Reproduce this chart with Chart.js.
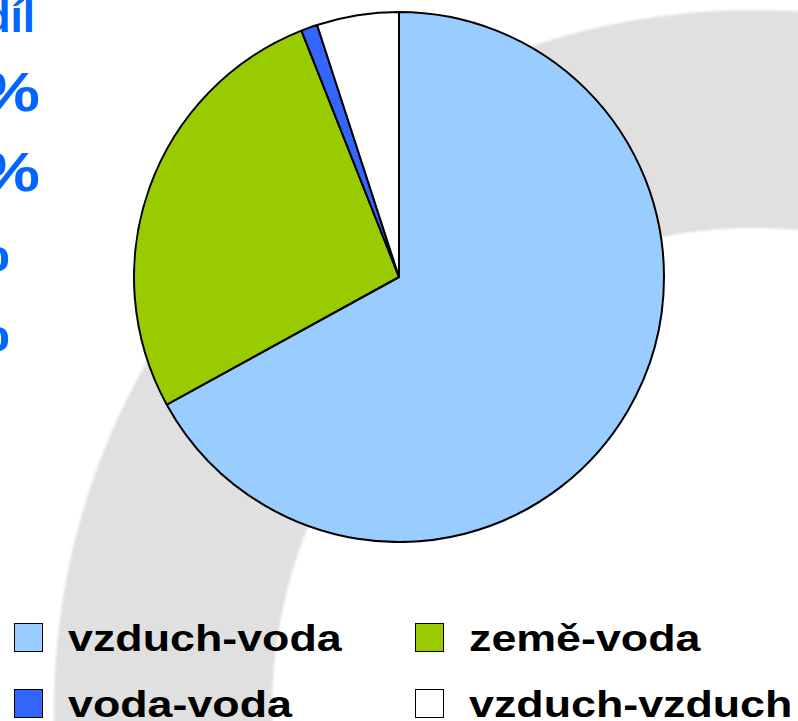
<!DOCTYPE html>
<html lang="cs">
<head>
<meta charset="utf-8">
<script src="https://cdn.jsdelivr.net/npm/chart.js@4/dist/chart.umd.min.js"></script>
<style>
  html, body { margin: 0; padding: 0; }
  body {
    width: 798px; height: 721px; overflow: hidden; position: relative;
    font-family: 'Liberation Sans', Arial, sans-serif;
    background: radial-gradient(circle at 754px 710px,
      #fff 0, #fff 480px, #e0e0e0 484px, #e0e0e0 698px, #fff 702px);
  }
  #pie-wrap { position: absolute; left: 133px; top: 11px; width: 532px; height: 532px; }
  .side {
    position: absolute; left: -400px; width: 440px; text-align: right;
    font-weight: bold; color: #0066ff;
    transform-origin: right center; white-space: nowrap;
  }
  .leg-item { position: absolute; height: 37px; }
  .leg-box {
    position: absolute; left: 0; top: 3px; width: 27px; height: 27px;
    border: 1.5px solid #000; box-sizing: content-box;
  }
  .leg-text {
    position: absolute; left: 54px; top: 0;
    font-size: 37px; line-height: 37px; font-weight: bold; color: #000;
    transform: scaleX(1.21); transform-origin: left center; white-space: nowrap;
  }
</style>
</head>
<body>
<div id="side-text"></div>
<div id="pie-wrap"><canvas id="pie"></canvas></div>
<div id="legend"></div>

<script>
// ─── DATA ─────────────────────────────────────────────────────────
const labels  = ['vzduch-voda', 'země-voda', 'voda-voda', 'vzduch-vzduch'];
const shares  = [67, 27, 1, 5];
const colours = ['#99ccff', '#99cc00', '#3366ff', '#ffffff'];

// clipped table on the left edge: header + the same shares
const sideHeader = 'podíl';

// ─── SIDE TEXT (cut off by the left edge) ─────────────────────────
const sideRows = [
  { text: sideHeader,      right: 35, base: 32,  size: 44, sx: 1 },
  { text: shares[0] + '%', right: 40, base: 112, size: 55, sx: 1.21 },
  { text: shares[1] + '%', right: 40, base: 192, size: 55, sx: 1.21 },
  { text: shares[2] + '%', right: 10, base: 272, size: 55, sx: 1.21 },
  { text: shares[3] + '%', right: 10, base: 352, size: 55, sx: 1.21 }
];
const sideEl = document.getElementById('side-text');
sideRows.forEach(r => {
  const d = document.createElement('div');
  d.className = 'side';
  d.textContent = r.text;
  d.style.fontSize   = r.size + 'px';
  d.style.lineHeight = r.size + 'px';
  d.style.transform  = 'scaleX(' + r.sx + ')';
  d.style.left = (r.right - 440) + 'px';
  // baseline offset inside a line box for Liberation Sans
  const baseOff = (r.size - 1.117 * r.size) / 2 + 0.905 * r.size;
  d.style.top  = (r.base - baseOff) + 'px';
  sideEl.appendChild(d);
});

// ─── PIE ─────────────────────────────────────────────────────────
new Chart(document.getElementById('pie'), {
  type: 'pie',
  data: {
    labels,
    datasets: [{
      data: shares,
      backgroundColor: colours,
      borderColor: '#000',
      borderWidth: 2
    }]
  },
  options: {
    responsive: true, maintainAspectRatio: false, animation: false,
    layout: { padding: 0 },
    plugins: { legend: { display: false }, tooltip: { enabled: false } }
  }
});

// ─── LEGEND (2 x 2) ───────────────────────────────────────────────
const legPos = [[14, 620], [415, 620], [14, 686], [415, 686]];
const legEl = document.getElementById('legend');
labels.forEach((lab, i) => {
  const item = document.createElement('div');
  item.className = 'leg-item';
  item.style.left = legPos[i][0] + 'px';
  item.style.top  = legPos[i][1] + 'px';
  item.innerHTML = '<div class="leg-box"></div><div class="leg-text"></div>';
  item.querySelector('.leg-box').style.background = colours[i];
  item.querySelector('.leg-text').textContent = lab;
  legEl.appendChild(item);
});
</script>
</body>
</html>
